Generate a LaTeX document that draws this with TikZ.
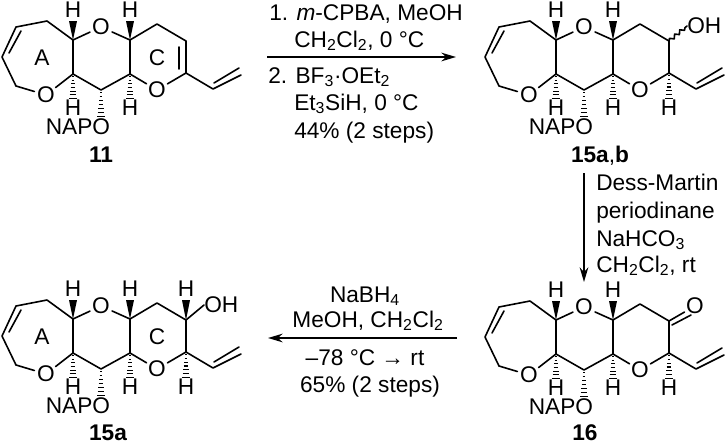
\documentclass[tikz,border=0pt]{standalone}
\usepackage{fontspec}
\setmainfont{Liberation Sans}
\usetikzlibrary{calc, arrows.meta, decorations.pathmorphing}

\tikzset{
	bond/.style={line width=1.2pt, line join=round, line cap=round},
	arrowline/.style={line width=1.2pt, -{Stealth[length=11pt, width=6.5pt]}},
	atom/.style={circle, inner sep=0pt},
	hatom/.style={inner sep=0pt},
	reagent/.style={anchor=base west, inner sep=0pt},
	reagentc/.style={anchor=base, inner sep=0pt},
	cpd/.style={anchor=base, inner sep=0pt, font=\fontsize{17}{20}\selectfont\bfseries},
	every node/.append style={font=\fontsize{17}{20}\selectfont}
}

% solid and hashed stereo bonds
\newcommand{\wedgebond}[2]{\fill (#1) -- ($(#2)+(-4,3)$) -- ($(#2)+(4,3)$) -- cycle;}
\newcommand{\hashbond}[2]{
	\foreach \t/\w in {.1/.8, .24/1.3, .38/1.8, .52/2.3, .66/2.8, .8/3.3, .94/3.8}
		\draw[line width=.8pt] ($(#1)!\t!(#2)+(-\w,0)$) -- ($(#1)!\t!(#2)+(\w,0)$);
}

% the skeleton shared by all four compounds
\newcommand{\ringcore}{
	\coordinate (ca) at (73,40);
	\coordinate (cb) at (73,74);
	\coordinate (c1) at (16,86);
	\coordinate (c2) at (2,57);
	\coordinate (c3) at (16,27);
	\coordinate (c4) at (47,21);
	\coordinate (cc) at (130,40);
	\coordinate (cd) at (130,74);
	\coordinate (ce) at (101,90);
	\coordinate (c5) at (157,24);
	\coordinate (c6) at (186,41);
	\coordinate (c7) at (186,73);
	\coordinate (v1) at (213,89);
	\coordinate (v2) at (241,75);
	\coordinate (v3) at (214,83);
	\coordinate (v4) at (239,68);
	\coordinate (d1) at (21,31);
	\coordinate (d2) at (9,53);
	\coordinate (nop) at (101,118);
	\node[atom] (oa) at (46,95) {O};
	\node[atom] (om) at (101,27) {O};
	\node[atom] (or) at (157,90) {O};
	\node[hatom] (h1) at (73,10) {H};
	\node[hatom] (h2) at (130,10) {H};
	\node[hatom] (h3) at (73,108) {H};
	\node[hatom] (h4) at (130,108) {H};
	\node[hatom] (napo) at (78,127) {NAPO};
	\draw[bond] (ca) -- (c4) -- (c3) -- (c2) -- (c1) -- (oa) -- (cb) -- (ca) -- (om) -- (cc) -- (cd) -- (ce) -- (cb);
	\draw[bond] (d1) -- (d2);
	\draw[bond] (cd) -- (or) -- (c7) -- (c6) -- (c5) -- (cc);
	\draw[bond] (c7) -- (v1) -- (v2);
	\draw[bond] (v3) -- (v4);
	\wedgebond{ca}{h1.south}
	\wedgebond{cc}{h2.south}
	\hashbond{cb}{h3.north}
	\hashbond{cd}{h4.north}
	\hashbond{ce}{nop}
}

\begin{document}
\begin{tikzpicture}[x=.75pt, y=-.75pt]
	\useasboundingbox (0,0) rectangle (726,443);

	% compound 11
	\begin{scope}[name prefix=p-]
		\ringcore
		\coordinate (d3) at (179,47);
		\coordinate (d4) at (179,69);
		\draw[bond] (d3) -- (d4);
		\node[hatom] (la) at (42,58) {A};
		\node[hatom] (lc) at (157,58) {C};
		\node[cpd] (name) at (101,162) {11};
	\end{scope}

	% compound 15a,b
	\begin{scope}[shift={(483,0)}, name prefix=q-]
		\ringcore
		\node[hatom, anchor=west] (oh) at (204,26) {OH};
		\node[hatom] (h5) at (186,108) {H};
		\draw[bond, decorate, decoration={snake, segment length=5pt, amplitude=1.3pt}] (c6) -- (oh.west);
		\hashbond{c7}{h5.north}
		\node[cpd] (name) at (117,162) {15a{\mdseries,}b};
	\end{scope}

	% compound 15a
	\begin{scope}[shift={(0,279)}, name prefix=r-]
		\ringcore
		\node[hatom, anchor=west] (oh) at (204,26) {OH};
		\node[hatom] (h5) at (186,108) {H};
		\node[hatom] (h6) at (186,10) {H};
		\draw[bond] (c6) -- (oh.west);
		\wedgebond{c6}{h6.south}
		\hashbond{c7}{h5.north}
		\node[hatom] (la) at (42,58) {A};
		\node[hatom] (lc) at (157,58) {C};
		\node[cpd] (name) at (108,161) {15a};
	\end{scope}

	% compound 16
	\begin{scope}[shift={(483,280)}, name prefix=s-]
		\ringcore
		\node[atom] (oc) at (212,26) {O};
		\node[hatom] (h5) at (186,108) {H};
		\coordinate (c8) at (189,45);
		\coordinate (c9) at (208,35);
		\draw[bond] (c6) -- (oc);
		\draw[bond] (c8) -- (c9);
		\hashbond{c7}{h5.north}
		\node[cpd] (name) at (102,160) {16};
	\end{scope}

	% reaction arrows
	\coordinate (a1) at (267,57);
	\coordinate (a2) at (456,57);
	\coordinate (a3) at (584,173);
	\coordinate (a4) at (584,282);
	\coordinate (a5) at (457,338);
	\coordinate (a6) at (268,338);
	\draw[arrowline] (a1) -- (a2);
	\draw[arrowline] (a3) -- (a4);
	\draw[arrowline] (a5) -- (a6);

	\node[reagent] (r1) at (269,20) {1. \textit{m}-CPBA, MeOH};
	\node[reagent] (r2) at (294,47) {CH\textsubscript{2}Cl\textsubscript{2}, 0 °C};
	\node[reagent] (r3) at (268,83) {2. BF\textsubscript{3}·OEt\textsubscript{2}};
	\node[reagent] (r4) at (294,110) {Et\textsubscript{3}SiH, 0 °C};
	\node[reagent] (r5) at (294,138) {44\% (2 steps)};

	\node[reagent] (r6) at (596,190) {Dess-Martin};
	\node[reagent] (r7) at (596,218) {periodinane};
	\node[reagent] (r8) at (596,246) {NaHCO\textsubscript{3}};
	\node[reagent] (r9) at (596,272) {CH\textsubscript{2}Cl\textsubscript{2}, rt};

	\node[reagentc] (r10) at (365,302) {NaBH\textsubscript{4}};
	\node[reagentc] (r11) at (368,327) {MeOH, CH\textsubscript{2}Cl\textsubscript{2}};
	\node[reagentc] (r12) at (365,365) {–78 °C → rt};
	\node[reagentc] (r13) at (370,392) {65\% (2 steps)};
\end{tikzpicture}
\end{document}
